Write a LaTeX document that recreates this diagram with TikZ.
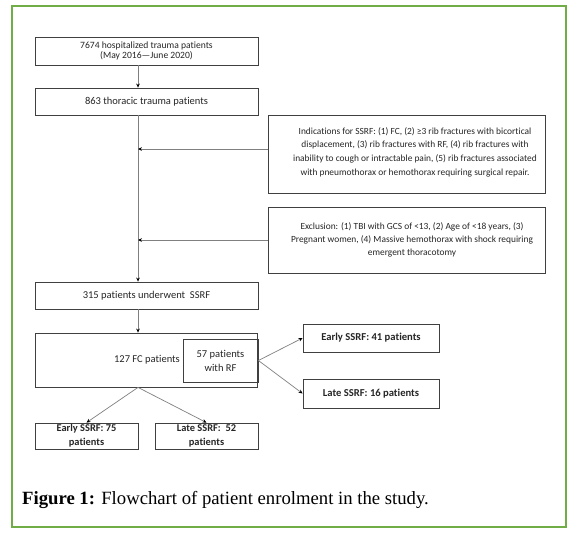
\documentclass[tikz,border=0pt]{standalone}
\usepackage{fontspec}
\setmainfont[Ligatures=NoCommon]{Carlito}
\newfontfamily\capfont{Liberation Serif}
\usetikzlibrary{arrows.meta,calc}
\definecolor{frameg}{HTML}{70AD47}
\definecolor{boxline}{HTML}{404040}
\definecolor{conn}{HTML}{808080}
\definecolor{txt}{HTML}{262626}
\begin{document}
\begin{tikzpicture}[x=1pt,y=-1pt,
  box/.style={draw=boxline,line width=0.8pt,inner sep=0pt,align=center,text=txt,
    font=\fontsize{10.5}{12}\selectfont},
  boxtext/.style={inner sep=0pt,align=center,text=txt},
  boldtext/.style={font=\fontsize{10.6}{14}\selectfont\bfseries},
  conn/.style={draw=conn,line width=0.7pt,-{Stealth[length=4pt,width=3.6pt,color=black]}},
  framefill/.style={fill=frameg},
]
\useasboundingbox (0,0) rectangle (570,536);
\fill[white] (0,0) rectangle (570,536);

\fill[framefill] (10.5,4.5) rectangle (566.5,6.5);
\fill[framefill] (10.5,526) rectangle (566.5,528);
\fill[framefill] (10.5,4.5) rectangle (12.5,528);
\fill[framefill] (564.5,4.5) rectangle (566.5,528);

\coordinate (sp) at (138,0);

\node[box,minimum width=223,minimum height=28,font=\fontsize{9.6}{10}\selectfont] (b1) at (146.5,51)
  {7674 hospitalized trauma patients\\(May 2016---June 2020)};
\node[box,minimum width=223,minimum height=27] (b2) at (146.5,101.5) {863 thoracic trauma patients};
\node[box,minimum width=277,minimum height=78] (ind) at (406.5,154) {};
\node[boxtext,font=\fontsize{9.4}{13.6}\selectfont] (indt) at (415,152)
  {Indications for SSRF: (1) FC, (2) ≥3 rib fractures with bicortical\\
   displacement, (3) rib fractures with RF, (4) rib fractures with\\
   inability to cough or intractable pain, (5) rib fractures associated\\
   with pneumothorax or hemothorax requiring surgical repair.};
\node[box,minimum width=277,minimum height=66] (exc) at (406.5,240) {};
\node[boxtext,font=\fontsize{9.4}{13}\selectfont] (exct) at (412,239.5)
  {Exclusion: (1) TBI with GCS of <13, (2) Age of <18 years, (3)\\
   Pregnant women, (4) Massive hemothorax with shock requiring\\
   emergent thoracotomy};
\node[box,minimum width=223,minimum height=27] (b3) at (146.5,295.5) {315 patients underwent\ \ SSRF};
\node[box,minimum width=222,minimum height=54] (big) at (146,360) {};
\node[box,minimum width=75,minimum height=43,font=\fontsize{10.5}{14}\selectfont] (inner) at (220.5,360.5) {57 patients\\with RF};
\node[boxtext,font=\fontsize{10.5}{12}\selectfont,anchor=east] (fc) at (180,360) {127 FC patients};
\node[box,boldtext,minimum width=136,minimum height=28] (e41) at (371,338) {Early SSRF:\ 41 patients};
\node[box,boldtext,minimum width=136,minimum height=29] (l16) at (371,393.5) {Late SSRF: 16 patients};
\node[box,boldtext,font=\fontsize{10.4}{14}\selectfont\bfseries,minimum width=103,minimum height=26] (e75) at (86.5,436) {Early SSRF: 75\\patients};
\node[box,boldtext,font=\fontsize{10.4}{14}\selectfont\bfseries,minimum width=103,minimum height=26] (l52) at (206.5,436) {Late SSRF:\ \ 52\\patients};

\node[anchor=base west,inner sep=0pt,font=\capfont\fontsize{18.7}{20}\selectfont,text=black] (cap) at (22,504)
  {\textbf{Figure 1:} Flowchart of patient enrolment in the study.};

\coordinate (ia) at (138,149);
\draw[conn] (b1.south -| sp) -- (b2.north -| sp);
\draw[conn] (b2.south -| sp) -- (b3.north -| sp);
\draw[conn] (ind.west |- ia) -- (ia);
\draw[conn] (exc.west) -- (exc.west -| sp);
\draw[conn] (b3.south -| sp) -- (big.north -| sp);
\draw[conn] (big.south -| sp) -- (e75.north);
\draw[conn] (big.south -| sp) -- (l52.north);
\draw[conn] (inner.east) -- (e41.west);
\draw[conn] (inner.east) -- (l16.west);
\end{tikzpicture}
\end{document}
